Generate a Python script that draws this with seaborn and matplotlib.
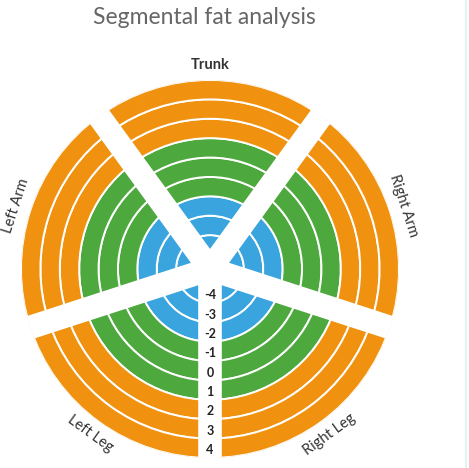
import numpy as np
import pandas as pd
import matplotlib
matplotlib.use("Agg")
import matplotlib.pyplot as plt
from matplotlib.lines import Line2D
import seaborn as sns

# Datos
segmentos = ["Trunk", "Right Arm", "Right Leg", "Left Leg", "Left Arm"]
angulos_centro = [90, 18, -54, -126, 162]   # grados, centro de cada segmento
niveles = [-4, -3, -2, -1, 0, 1, 2, 3, 4]
zona_nivel = ["low", "low", "low", "normal", "normal", "normal", "high", "high", "high"]
colores_zona = {"low": "#3AA4DE", "normal": "#4DA83E", "high": "#F09210"}

# Tabla segmento x nivel
df = pd.DataFrame([(s, a, n, z) for s, a in zip(segmentos, angulos_centro)
                   for n, z in zip(niveles, zona_nivel)],
                  columns=["segmento", "angulo", "nivel", "zona"])

sns.set_theme(style="white")
plt.rcParams['font.family'] = ['Lato', 'DejaVu Sans']

fig = plt.figure(figsize=(4.69, 4.68), dpi=100)
R = 189.0
cx, cy = 210, 269
ax = fig.add_axes([(cx - R) / 469, (468 - cy - R) / 468, 2 * R / 469, 2 * R / 468],
                  projection="polar")

r0 = 14.5
paso = (R - r0) / len(niveles)
ancho = np.deg2rad(72)

for _, fila in df.iterrows():
    j = niveles.index(fila["nivel"])
    ax.bar(np.deg2rad(fila["angulo"]), paso, width=ancho, bottom=r0 + j * paso,
           color=colores_zona[fila["zona"]], edgecolor="white", linewidth=1.4,
           align="center")

# Separaciones blancas entre segmentos
for a in angulos_centro:
    g = np.deg2rad(a + 36)
    ax.plot([g, g], [0, R + 5], color="white", lw=17, solid_capstyle="butt", zorder=5)

# Etiquetas de nivel en la separacion inferior
for j, n in enumerate(niveles):
    ax.text(np.deg2rad(-90), r0 + (j + 0.6) * paso, str(n), ha="center", va="center",
            fontsize=9, fontweight="bold", color="#222222", zorder=7)

# Etiquetas de segmento
rot = {"Trunk": 0, "Right Arm": -72, "Right Leg": 36, "Left Leg": -36, "Left Arm": 72}
for s, a in zip(segmentos, angulos_centro):
    peso = "bold" if s == "Trunk" else "normal"
    ax.text(np.deg2rad(a), R + 15, s, ha="center", va="center", rotation=rot[s],
            rotation_mode="anchor", fontsize=10.5, fontweight=peso, color="#333333",
            clip_on=False)

ax.set_ylim(0, R)
ax.set_axis_off()

fig.text(204 / 469, 1 - 18 / 468, "Segmental fat analysis", ha="center", va="center",
         fontsize=16.5, fontweight="normal", color="#666666")
fig.add_artist(Line2D([466 / 469, 466 / 469], [0, 1], color="#DDF1F1", lw=1.2))

fig.savefig("out.png", dpi=100)
